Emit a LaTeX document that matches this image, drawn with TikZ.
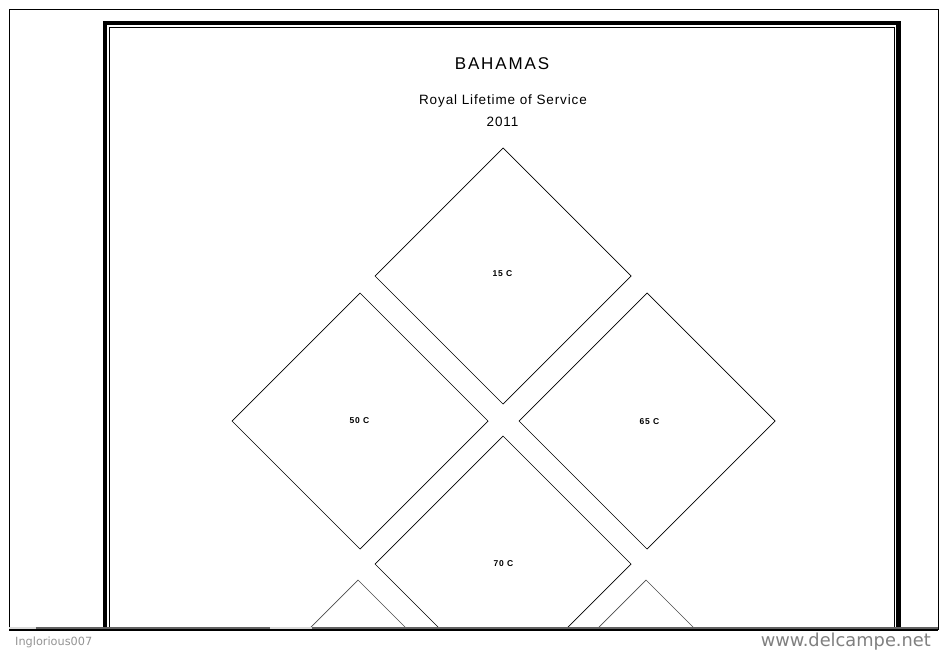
\documentclass[tikz,border=0pt]{standalone}
\usepackage{fontspec}
\setmainfont{Liberation Sans}
\newfontfamily\wmfont{DejaVu Sans}
\begin{document}
\begin{tikzpicture}[x=1pt,y=-1pt,
  stamp/.style={draw=black,line width=0.7pt},
  lbl/.style={font=\fontsize{8.5}{9}\selectfont\bfseries\addfontfeature{LetterSpace=10},inner sep=0pt},
  wm/.style={text=black!42,inner sep=0pt,anchor=base west}]
\useasboundingbox (0,0) rectangle (948,650);
\fill[white] (0,0) rectangle (948,650);
% outer thin frame
\draw[line width=0.9pt] (9.5,9.5) -- (938,9.5) -- (938,630) (9.5,9.5) -- (9.5,630);
\begin{scope}
\clip (0,0) rectangle (948,627);
% thick album frame
\draw[line width=4.2pt] (105.3,700) -- (105.3,23) -- (898.5,23) -- (898.5,700);
\draw[line width=0.9pt] (109.5,700) -- (109.5,27.5) -- (894.5,27.5) -- (894.5,700);
% diamonds
\draw[stamp] (503,148) -- (631,276) -- (503,404) -- (375,276) -- cycle;
\node[lbl] (t15) at (502.5,274) {15 C};
\draw[stamp] (360,293) -- (488,421) -- (360,549) -- (232,421) -- cycle;
\node[lbl] (t50) at (359.5,421) {50 C};
\draw[stamp] (647,293) -- (775,421) -- (647,549) -- (519,421) -- cycle;
\node[lbl] (t65) at (649.5,421.5) {65 C};
\draw[stamp] (503,436) -- (631,564) -- (503,692) -- (375,564) -- cycle;
\node[lbl] (t70) at (503.5,564) {70 C};
\draw[stamp,draw=black!70] (358,580) -- (486,708) -- (358,836) -- (230,708) -- cycle;
\draw[stamp,draw=black!70] (646,580) -- (774,708) -- (646,836) -- (518,708) -- cycle;
\end{scope}
% titles
\node[inner sep=0pt,font=\fontsize{17}{19}\selectfont\addfontfeature{LetterSpace=11}] (title) at (502,63.5) {BAHAMAS};
\node[inner sep=0pt,font=\fontsize{13.5}{15}\selectfont\addfontfeature{LetterSpace=6.5}] (sub) at (503,101) {Royal Lifetime of Service};
\node[inner sep=0pt,font=\fontsize{13.5}{15}\selectfont\addfontfeature{LetterSpace=6.5}] (year) at (502.5,122) {2011};
% bottom scrollbar band
\fill[black!15] (9,626.5) rectangle (938,629);
\fill[black!62] (36,626.5) rectangle (270,629);
\fill[black!62] (312,626.5) rectangle (938,629);
\draw[line width=1.2pt] (9,630) -- (938,630);
% watermarks
\node[wm,font=\wmfont\fontsize{11.3}{13}\selectfont] (wm1) at (15,645) {Inglorious007};
\node[wm,font=\wmfont\fontsize{17.8}{20}\selectfont,anchor=base east,text=black!50] (wm2) at (931,646) {www.delcampe.net};
\end{tikzpicture}
\end{document}
